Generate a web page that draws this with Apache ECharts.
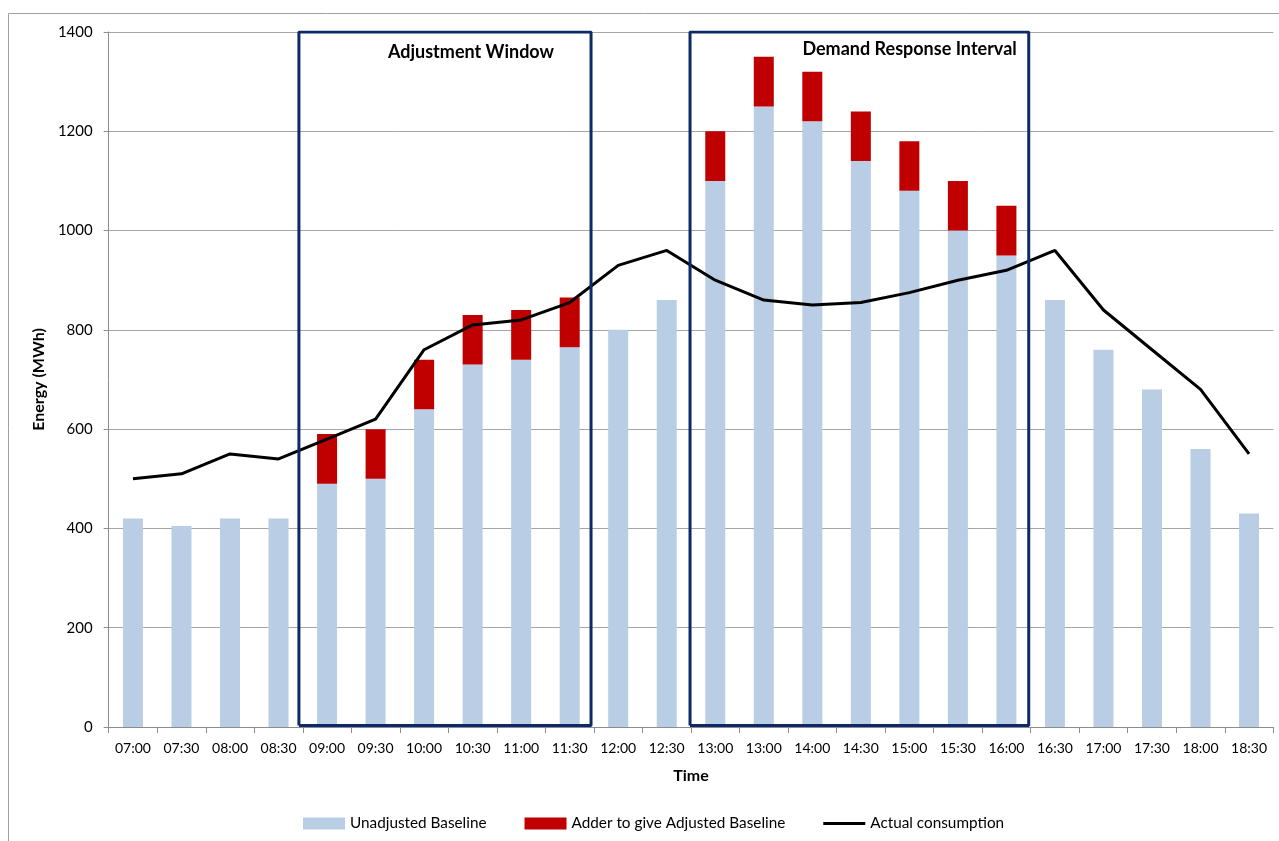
<!DOCTYPE html>
<html>
<head>
<meta charset="utf-8">
<script src="https://cdn.jsdelivr.net/npm/echarts@6/dist/echarts.min.js"></script>
<style>
  html, body { margin: 0; padding: 0; background: #fff; }
  #chart { width: 1279px; height: 841px; }
</style>
</head>
<body>
<div id="chart"></div>
<script>
// Half-hourly time slots
const timeSlots = ['07:00','07:30','08:00','08:30','09:00','09:30','10:00','10:30','11:00','11:30',
  '12:00','12:30','13:00','13:00','14:00','14:30','15:00','15:30','16:00','16:30','17:00','17:30','18:00','18:30'];

// Unadjusted baseline (MWh)
const unadjustedBaseline = [420, 405, 420, 420, 490, 500, 640, 730, 740, 765,
  800, 860, 1100, 1250, 1220, 1140, 1080, 1000, 950, 860, 760, 680, 560, 430];

// Adder that lifts the baseline to the adjusted baseline (MWh)
const adjustmentAdder = [null, null, null, null, 100, 100, 100, 100, 100, 100,
  null, null, 100, 100, 100, 100, 100, 100, 100, null, null, null, null, null];

// Actual consumption (MWh)
const actualConsumption = [500, 510, 550, 540, 580, 620, 760, 810, 820, 855,
  930, 960, 900, 860, 850, 855, 875, 900, 920, 960, 840, 760, 680, 550];

// Window outlines, in slot units along the time axis
const adjustmentWindow = { from: 3.92, to: 9.94, label: 'Adjustment Window' };
const demandResponseInterval = { from: 11.98, to: 18.96, label: 'Demand Response Interval' };
const yMax = 1400;

function outline(w) {
  return [[w.from, 3], [w.from, yMax], [w.to, yMax], [w.to, 3], [w.from, 3]];
}

const font = 'Lato, "Open Sans", sans-serif';
const chart = echarts.init(document.getElementById('chart'));

chart.setOption({
  animation: false,
  textStyle: { fontFamily: font },
  grid: { left: 108.7, right: 5.7, top: 32, bottom: 114, containLabel: false },
  legend: {
    bottom: 5,
    left: 298,
    itemWidth: 42,
    itemHeight: 12,
    itemGap: 38,
    textStyle: { fontSize: 15.3, color: '#000', fontFamily: font },
    data: [
      { name: 'Unadjusted Baseline', icon: 'rect' },
      { name: 'Adder to give Adjusted Baseline', icon: 'rect' },
      { name: 'Actual consumption', icon: 'path://M0,5 L42,5 L42,8 L0,8 Z' }
    ]
  },
  xAxis: [
    {
      type: 'category',
      data: timeSlots,
      boundaryGap: true,
      name: 'Time',
      nameLocation: 'middle',
      nameGap: 41,
      nameTextStyle: { fontWeight: 'bold', fontSize: 16, color: '#000' },
      axisLine: { lineStyle: { color: '#8c8c8c', width: 1 } },
      axisTick: { show: true, length: 6, lineStyle: { color: '#8c8c8c' }, alignWithLabel: false },
      axisLabel: { color: '#000', fontSize: 14, margin: 14, interval: 0 }
    },
    {
      type: 'value',
      min: 0,
      max: 24,
      show: false
    }
  ],
  yAxis: {
    type: 'value',
    min: 0,
    max: yMax,
    interval: 200,
    name: 'Energy (MWh)',
    nameLocation: 'middle',
    nameGap: 58,
    nameTextStyle: { fontWeight: 'bold', fontSize: 16, color: '#000' },
    axisLine: { show: true, lineStyle: { color: '#8c8c8c' } },
    axisTick: { show: true, length: 5, lineStyle: { color: '#8c8c8c' } },
    axisLabel: { color: '#000', fontSize: 15, margin: 16, formatter: v => String(v) },
    splitLine: { lineStyle: { color: '#a6a6a6', width: 1 } }
  },
  series: [
    {
      name: 'Unadjusted Baseline',
      type: 'bar',
      stack: 'baseline',
      barWidth: 20,
      itemStyle: { color: '#b9cde5' },
      data: unadjustedBaseline
    },
    {
      name: 'Adder to give Adjusted Baseline',
      type: 'bar',
      stack: 'baseline',
      barWidth: 20,
      itemStyle: { color: '#c00000' },
      data: adjustmentAdder
    },
    {
      name: 'Actual consumption',
      type: 'line',
      symbol: 'none',
      z: 5,
      lineStyle: { color: '#000', width: 3 },
      itemStyle: { color: '#000' },
      data: actualConsumption
    },
    {
      name: 'adjustmentWindowOutline',
      type: 'line',
      xAxisIndex: 1,
      symbol: 'none',
      z: 6,
      silent: true,
      lineStyle: { color: '#0d2a66', width: 3 },
      data: outline(adjustmentWindow)
    },
    {
      name: 'demandResponseOutline',
      type: 'line',
      xAxisIndex: 1,
      symbol: 'none',
      z: 6,
      silent: true,
      lineStyle: { color: '#0d2a66', width: 3 },
      data: outline(demandResponseInterval)
    }
  ]
});

// Outer chart frame and window captions
const toPx = (x, y) => chart.convertToPixel({ xAxisIndex: 1, yAxisIndex: 0 }, [x, y]);
const aw = toPx((adjustmentWindow.from + adjustmentWindow.to) / 2, yMax);
const dr = toPx(demandResponseInterval.to, yMax);
chart.setOption({
  graphic: [
    {
      type: 'rect',
      shape: { x: 8.5, y: 13.5, width: 1300, height: 900 },
      style: { fill: null, stroke: '#a0a0a0', lineWidth: 1 },
      silent: true,
      z: -1
    },
    {
      type: 'text',
      x: aw[0] + 26,
      y: aw[1] + 20,
      style: {
        text: adjustmentWindow.label,
        font: 'bold 18px ' + font,
        fill: '#000',
        align: 'center',
        verticalAlign: 'middle'
      }
    },
    {
      type: 'text',
      x: dr[0] - 12,
      y: dr[1] + 17,
      style: {
        text: demandResponseInterval.label,
        font: 'bold 18px ' + font,
        fill: '#000',
        align: 'right',
        verticalAlign: 'middle'
      }
    }
  ]
});
</script>
</body>
</html>
